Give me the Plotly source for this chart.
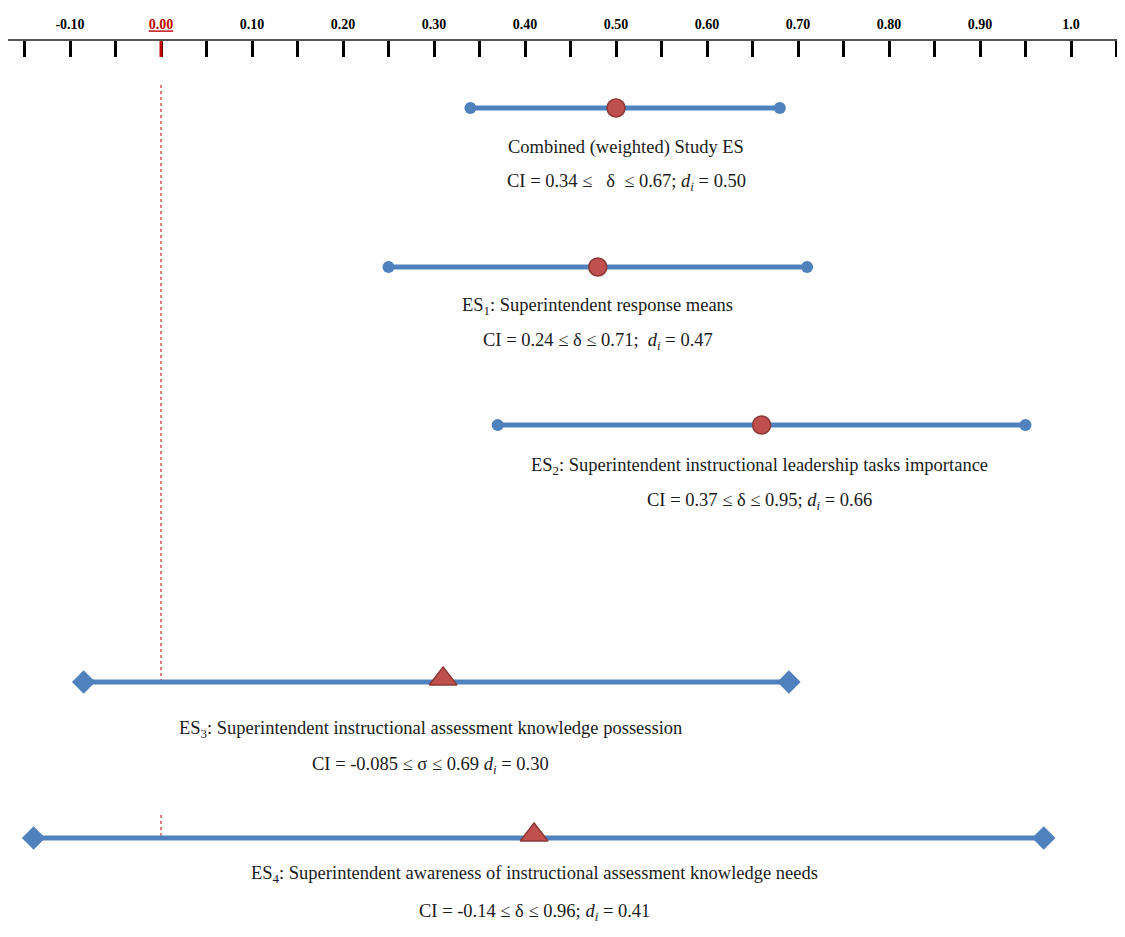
import plotly.graph_objects as go

# ---- data ----
row_names = ["Combined", "ES1", "ES2", "ES3", "ES4"]
ci_low = [0.34, 0.25, 0.37, -0.085, -0.14]
ci_high = [0.68, 0.71, 0.95, 0.69, 0.97]
effect = [0.50, 0.48, 0.66, 0.31, 0.41]
titles = [
    "Combined (weighted) Study ES",
    "ES<sub>1</sub>: Superintendent response means",
    "ES<sub>2</sub>: Superintendent instructional leadership tasks importance",
    "ES<sub>3</sub>: Superintendent instructional assessment knowledge possession",
    "ES<sub>4</sub>: Superintendent awareness of instructional assessment knowledge needs",
]
ci_texts = [
    "CI = 0.34 \u2264 \u00a0 \u03b4 \u00a0\u2264 0.67; <i>d</i><sub><i>i</i></sub> = 0.50",
    "CI = 0.24 \u2264 \u03b4 \u2264 0.71; \u00a0<i>d</i><sub><i>i</i></sub> = 0.47",
    "CI = 0.37 \u2264 \u03b4 \u2264 0.95; <i>d</i><sub><i>i</i></sub> = 0.66",
    "CI = -0.085 \u2264 \u03c3 \u2264 0.69 <i>d</i><sub><i>i</i></sub> = 0.30",
    "CI = -0.14 \u2264 \u03b4 \u2264 0.96; <i>d</i><sub><i>i</i></sub> = 0.41",
]
tick_vals = [-0.10, 0.00, 0.10, 0.20, 0.30, 0.40, 0.50, 0.60, 0.70, 0.80, 0.90, 1.0]
tick_text = ["-0.10", "<span style='color:#C00000'><u>0.00</u></span>", "0.10", "0.20",
             "0.30", "0.40", "0.50", "0.60", "0.70", "0.80", "0.90", "1.0"]
minor_vals = [round(-0.15 + 0.05 * i, 2) for i in range(25)]

# ---- layout (positions / styles) ----
PAGE_OFF = 8            # default body margin of the html page
W, H = 1125 - PAGE_OFF, 937 - PAGE_OFF
AXIS_Y = 41             # page y of axis line
row_y = [108, 267, 425, 682, 838]
title_dy = [39, 39, 41, 47, 36]
ci_dy = [74, 74, 76, 83, 74]
label_x = [0.511, 0.480, 0.658, 0.296, 0.410]
end_symbol = ["circle", "circle", "circle", "diamond", "diamond"]
end_size = [12, 12, 12, 18, 18]
mid_symbol = ["circle", "circle", "circle", "triangle-up", "triangle-up"]
mid_size = [18, 18, 18, 24, 24]

BLUE = "#4F81BD"
RED = "#C0504D"
RED_EDGE = "#8C3836"
SERIF = "Liberation Serif, Times New Roman, serif"

fig = go.Figure()

for i in range(len(row_names)):
    y = row_y[i]
    fig.add_trace(go.Scatter(
        x=[ci_low[i], ci_high[i]], y=[y, y], mode="lines+markers",
        line=dict(color=BLUE, width=5),
        marker=dict(symbol=end_symbol[i], size=end_size[i], color=BLUE,
                    line=dict(width=0)),
        showlegend=False, hoverinfo="skip"))
    fig.add_trace(go.Scatter(
        x=[effect[i]], y=[y if mid_symbol[i] == "circle" else y - 3], mode="markers",
        marker=dict(symbol=mid_symbol[i], size=mid_size[i], color=RED,
                    line=dict(width=1.5, color=RED_EDGE)),
        showlegend=False, hoverinfo="skip"))
    fig.add_annotation(x=label_x[i], y=y + title_dy[i], xref="x", yref="y",
                       text=titles[i], showarrow=False,
                       font=dict(family=SERIF, size=18.5, color="#1a1a1a"))
    fig.add_annotation(x=label_x[i], y=y + ci_dy[i], xref="x", yref="y",
                       text=ci_texts[i], showarrow=False,
                       font=dict(family=SERIF, size=18.5, color="#1a1a1a"))

# zero reference line (dotted red)
fig.add_shape(type="line", x0=0, x1=0, y0=85, y1=row_y[3], xref="x", yref="y",
              line=dict(color="#C00000", width=1, dash="dot"), layer="below")
fig.add_shape(type="line", x0=0, x1=0, y0=815, y1=row_y[4], xref="x", yref="y",
              line=dict(color="#C00000", width=1, dash="dot"), layer="below")
# red tick at 0.00
fig.add_shape(type="line", x0=0, x1=0, y0=AXIS_Y, y1=AXIS_Y + 16, xref="x", yref="y",
              line=dict(color="#C00000", width=3))

x_left = (PAGE_OFF - 161) / 910.0
x_right = (1125 - 161) / 910.0

fig.update_layout(
    width=W, height=H,
    margin=dict(l=0, r=0, t=AXIS_Y - PAGE_OFF, b=0),
    paper_bgcolor="white", plot_bgcolor="white",
    xaxis=dict(
        domain=[0, 1], range=[x_left, x_right], side="top",
        tickvals=tick_vals, ticktext=tick_text,
        ticks="inside", ticklen=16, tickwidth=3, tickcolor="black",
        showline=True, linewidth=2, linecolor="#555555",
        showgrid=False, zeroline=False, ticklabelstandoff=4,
        tickfont=dict(family=SERIF, size=14, color="black", weight="bold"),
        minor=dict(tickvals=minor_vals, ticks="inside", ticklen=16, tickwidth=3,
                   tickcolor="black", showgrid=False),
        fixedrange=True,
    ),
    yaxis=dict(range=[937, AXIS_Y], visible=False, showgrid=False, zeroline=False,
               fixedrange=True),
)

fig.write_html("out.html")
